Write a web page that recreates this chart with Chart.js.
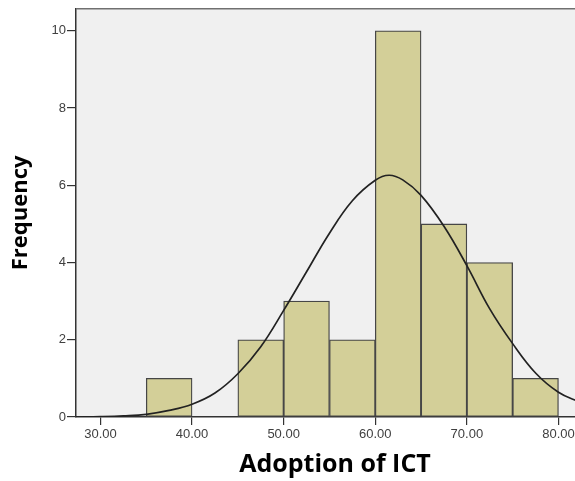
<!DOCTYPE html>
<html>
<head>
<meta charset="utf-8">
<script src="https://cdn.jsdelivr.net/npm/chart.js@4.4.1/dist/chart.umd.min.js"></script>
<style>
  html,body{margin:0;padding:0;background:#ffffff;overflow:hidden;}
  #wrap{width:575px;height:481px;position:relative;overflow:hidden;}
  #c{position:absolute;left:0;top:0;}
</style>
</head>
<body>
<div id="wrap"><canvas id="c" width="594" height="481"></canvas></div>
<script>
// Histogram bins (bin centres) and frequencies
const binCenters = [37.5, 42.5, 47.5, 52.5, 57.5, 62.5, 67.5, 72.5, 77.5];
const frequencies = [1, null, 2, 3, 2, 10, 5, 4, 1];

// Fitted normal curve
const curveX = [27.3, 30, 32.5, 35, 37.5, 40, 42.5, 45, 47.5, 50, 52.5, 55, 57.5, 60, 61.5, 63, 65, 67.5, 70, 72.5, 75, 77.5, 80, 82, 84];
const curveY = [0.00, 0.01, 0.03, 0.07, 0.17, 0.33, 0.62, 1.12, 1.82, 2.76, 3.76, 4.76, 5.6, 6.13, 6.26, 6.14, 5.74, 4.94, 3.92, 2.8, 1.9, 1.14, 0.64, 0.42, 0.26];

// Tick labels
const xTicks = [30, 40, 50, 60, 70, 80];
const yTicks = [0, 2, 4, 6, 8, 10];

const xTitle = 'Adoption of ICT';
const yTitle = 'Frequency';

const barData = binCenters.map((x, i) => ({x: x, y: frequencies[i]}));
const lineData = curveX.map((x, i) => ({x: x, y: curveY[i]}));

const framePlugin = {
  id: 'frame',
  beforeDraw(chart) {
    const {ctx, chartArea: a} = chart;
    ctx.save();
    ctx.fillStyle = '#f0f0f0';
    ctx.fillRect(a.left, a.top, a.right - a.left, a.bottom - a.top);
    ctx.restore();
  },
  afterDraw(chart) {
    const {ctx, chartArea: a} = chart;
    ctx.save();
    ctx.strokeStyle = '#707070';
    ctx.lineWidth = 1.5;
    ctx.beginPath();
    ctx.moveTo(a.left, a.top);
    ctx.lineTo(a.right, a.top);
    ctx.stroke();
    ctx.restore();
  }
};

const tickFont = {family: '"Liberation Sans", Arial, sans-serif', size: 13};

new Chart(document.getElementById('c'), {
  type: 'bar',
  data: {
    datasets: [
      {
        type: 'line',
        data: lineData,
        borderColor: '#222222',
        borderWidth: 1.7,
        pointRadius: 0,
        fill: false,
        tension: 0.4,
        order: 0
      },
      {
        type: 'bar',
        data: barData,
        backgroundColor: '#d3cf98',
        borderColor: '#464646',
        borderWidth: 1.3,
        borderSkipped: false,
        barPercentage: 1,
        categoryPercentage: 1,
        order: 1
      }
    ]
  },
  options: {
    responsive: false,
    animation: false,
    events: [],
    layout: {padding: {top: 7, left: 0, right: 0, bottom: 0}},
    plugins: {legend: {display: false}, tooltip: {enabled: false}},
    scales: {
      x: {
        type: 'linear',
        min: 27.33,
        max: 83.88,
        offset: false,
        afterFit(s) { s.height = 64; },
        afterBuildTicks(s) { s.ticks = xTicks.map(v => ({value: v})); },
        grid: {display: true, offset: false, drawOnChartArea: false, drawTicks: true, tickLength: 8, color: '#333333', lineWidth: 1.2},
        border: {display: true, color: '#333333', width: 1.5},
        ticks: {
          color: '#404040',
          font: tickFont,
          padding: 2,
          maxRotation: 0,
          callback: v => Number(v).toFixed(2)
        },
        title: {
          display: true,
          text: xTitle,
          color: '#000000',
          font: {family: '"Open Sans", "Noto Sans", sans-serif', size: 25, weight: 'bold'},
          padding: {top: 0, bottom: 1}
        }
      },
      y: {
        type: 'linear',
        min: 0,
        max: 10.57,
        afterFit(s) { s.width = 76; },
        afterBuildTicks(s) { s.ticks = yTicks.map(v => ({value: v})); },
        grid: {display: true, offset: false, drawOnChartArea: false, drawTicks: true, tickLength: 9, color: '#333333', lineWidth: 1.2},
        border: {display: true, color: '#333333', width: 1.5},
        ticks: {
          color: '#404040',
          font: tickFont,
          padding: 1
        },
        title: {
          display: true,
          text: yTitle,
          color: '#000000',
          font: {family: '"Open Sans", "Noto Sans", sans-serif', size: 22, weight: 'bold'},
          padding: {top: 8, bottom: 0}
        }
      }
    }
  },
  plugins: [framePlugin]
});
</script>
</body>
</html>
